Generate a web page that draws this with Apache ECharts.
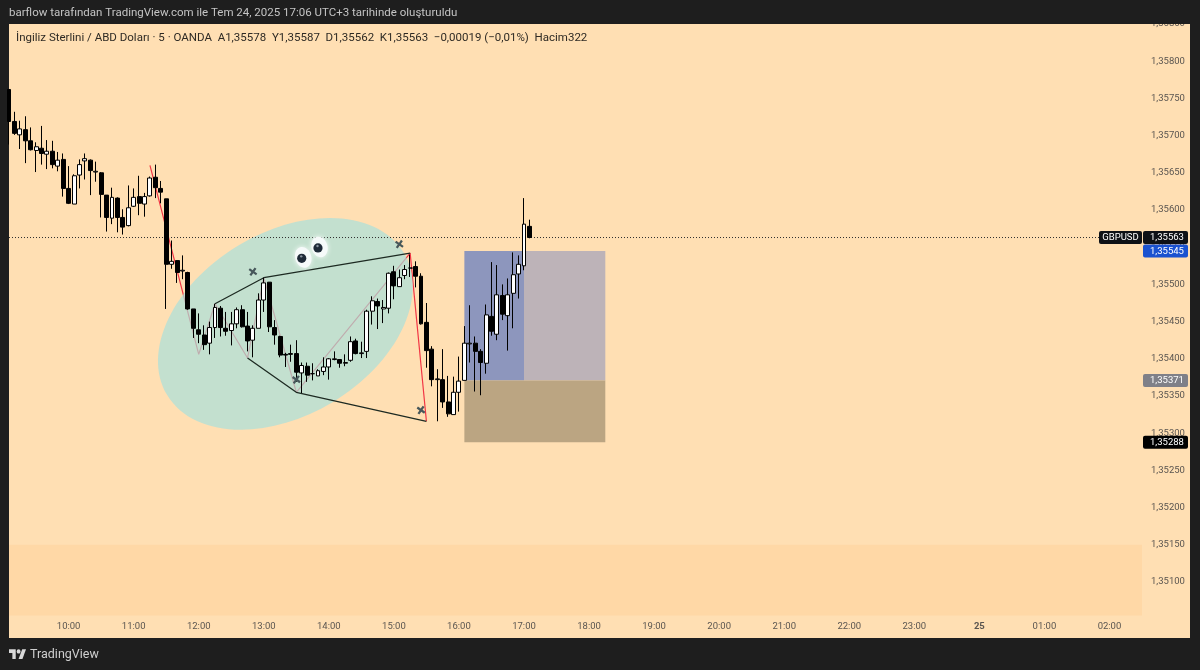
<!DOCTYPE html>
<html>
<head>
<meta charset="utf-8">
<title>GBPUSD</title>
<script src="https://cdn.jsdelivr.net/npm/echarts@6/dist/echarts.min.js"></script>
<style>
	html, body { margin: 0; padding: 0; background: #1e1e1e; }
	#chart { width: 1200px; height: 670px; }
</style>
</head>
<body>
<div id="chart"></div>
<script>
// candles (prices)
const opens = [
	1.35762, 1.35719, 1.35701, 1.35708, 1.35693, 1.35680, 1.35683, 1.35675, 1.35679, 1.35659,
	1.35668, 1.35629, 1.35608, 1.35647, 1.35666, 1.35667, 1.35651, 1.35650, 1.35620, 1.35589,
	1.35616, 1.35590, 1.35579, 1.35605, 1.35618, 1.35608, 1.35619, 1.35644, 1.35629, 1.35615,
	1.35527, 1.35532, 1.35518, 1.35516, 1.35467, 1.35439, 1.35432, 1.35421, 1.35442, 1.35468,
	1.35441, 1.35438, 1.35447, 1.35466, 1.35444, 1.35425, 1.35441, 1.35479, 1.35503, 1.35442,
	1.35430, 1.35406, 1.35407, 1.35407, 1.35381, 1.35390, 1.35380, 1.35377, 1.35383, 1.35389,
	1.35399, 1.35399, 1.35394, 1.35398, 1.35424, 1.35407, 1.35410, 1.35464, 1.35477, 1.35467,
	1.35468, 1.35517, 1.35497, 1.35512, 1.35522, 1.35524, 1.35511, 1.35449, 1.35413, 1.35372,
	1.35372, 1.35342, 1.35325, 1.35355, 1.35371, 1.35420, 1.35421, 1.35410, 1.35394, 1.35457,
	1.35433, 1.35485, 1.35458, 1.35488, 1.35514, 1.35525, 1.35578
];
const closes = [
	1.35719, 1.35703, 1.35709, 1.35693, 1.35681, 1.35685, 1.35676, 1.35679, 1.35661, 1.35667,
	1.35629, 1.35609, 1.35646, 1.35661, 1.35669, 1.35653, 1.35652, 1.35621, 1.35590, 1.35617,
	1.35590, 1.35577, 1.35603, 1.35617, 1.35609, 1.35618, 1.35643, 1.35630, 1.35624, 1.35527,
	1.35531, 1.35516, 1.35519, 1.35467, 1.35441, 1.35433, 1.35419, 1.35442, 1.35469, 1.35442,
	1.35437, 1.35447, 1.35466, 1.35443, 1.35424, 1.35441, 1.35479, 1.35502, 1.35443, 1.35432,
	1.35405, 1.35405, 1.35406, 1.35382, 1.35391, 1.35378, 1.35380, 1.35384, 1.35389, 1.35400,
	1.35400, 1.35394, 1.35395, 1.35423, 1.35407, 1.35408, 1.35464, 1.35478, 1.35471, 1.35469,
	1.35515, 1.35498, 1.35509, 1.35520, 1.35522, 1.35511, 1.35447, 1.35411, 1.35372, 1.35373,
	1.35342, 1.35326, 1.35355, 1.35370, 1.35421, 1.35421, 1.35410, 1.35395, 1.35459, 1.35437,
	1.35486, 1.35460, 1.35486, 1.35513, 1.35527, 1.35581, 1.35563
];
const lows = [
	1.35688, 1.35701, 1.35682, 1.35663, 1.35680, 1.35651, 1.35661, 1.35655, 1.35656, 1.35652,
	1.35618, 1.35608, 1.35608, 1.35629, 1.35641, 1.35620, 1.35638, 1.35590, 1.35571, 1.35581,
	1.35570, 1.35567, 1.35578, 1.35604, 1.35593, 1.35591, 1.35618, 1.35616, 1.35609, 1.35467,
	1.35521, 1.35502, 1.35507, 1.35466, 1.35428, 1.35421, 1.35412, 1.35406, 1.35428, 1.35430,
	1.35431, 1.35418, 1.35441, 1.35442, 1.35410, 1.35402, 1.35441, 1.35463, 1.35436, 1.35419,
	1.35402, 1.35389, 1.35396, 1.35369, 1.35354, 1.35369, 1.35371, 1.35377, 1.35378, 1.35372,
	1.35398, 1.35388, 1.35390, 1.35396, 1.35406, 1.35401, 1.35401, 1.35446, 1.35440, 1.35448,
	1.35461, 1.35480, 1.35497, 1.35507, 1.35510, 1.35496, 1.35446, 1.35388, 1.35363, 1.35316,
	1.35334, 1.35322, 1.35325, 1.35329, 1.35371, 1.35395, 1.35356, 1.35351, 1.35380, 1.35431,
	1.35425, 1.35452, 1.35411, 1.35441, 1.35481, 1.35519, 1.35562
];
const highs = [
	1.35762, 1.35732, 1.35720, 1.35726, 1.35711, 1.35691, 1.35713, 1.35694, 1.35693, 1.35678,
	1.35676, 1.35659, 1.35648, 1.35668, 1.35676, 1.35668, 1.35665, 1.35651, 1.35620, 1.35630,
	1.35617, 1.35601, 1.35633, 1.35629, 1.35646, 1.35623, 1.35645, 1.35661, 1.35639, 1.35615,
	1.35559, 1.35532, 1.35539, 1.35517, 1.35467, 1.35461, 1.35445, 1.35450, 1.35474, 1.35471,
	1.35463, 1.35463, 1.35469, 1.35472, 1.35463, 1.35445, 1.35488, 1.35509, 1.35503, 1.35452,
	1.35431, 1.35408, 1.35419, 1.35425, 1.35395, 1.35395, 1.35394, 1.35386, 1.35402, 1.35401,
	1.35410, 1.35399, 1.35406, 1.35430, 1.35427, 1.35423, 1.35466, 1.35484, 1.35481, 1.35479,
	1.35516, 1.35525, 1.35520, 1.35526, 1.35540, 1.35531, 1.35515, 1.35475, 1.35417, 1.35386,
	1.35413, 1.35377, 1.35376, 1.35403, 1.35444, 1.35472, 1.35430, 1.35413, 1.35473, 1.35530,
	1.35526, 1.35500, 1.35508, 1.35543, 1.35539, 1.35616, 1.35587
];

// drawings: [bar index, price]
const zigzagLine = [
	[ 26, 1.35660 ], [ 35, 1.35406 ], [ 38, 1.35474 ], [ 44, 1.35401 ],
	[ 47, 1.35509 ], [ 53, 1.35355 ], [ 74, 1.35542 ], [ 77, 1.35316 ]
];
const upperLine = [ [ 38, 1.35474 ], [ 47, 1.35509 ], [ 74, 1.35542 ] ];
const lowerLine = [ [ 44, 1.35401 ], [ 53, 1.35355 ], [ 77, 1.35316 ] ];
const crossMarks = [ [ 45, 1.35517 ], [ 53, 1.35372 ], [ 72, 1.35554 ], [ 76, 1.35331 ] ];
const ellipseCenter = [ [ 51, 1.35447 ] ];
const eyeMarks = [ [ 54, 1.35535 ], [ 57, 1.35549 ] ];
// position tool: [from bar, to bar, top price, bottom price]
const positionZones = [
	[ 84, 95, 1.35545, 1.35371 ],
	[ 95, 110, 1.35545, 1.35371 ],
	[ 84, 110, 1.35371, 1.35288 ]
];
const zoneColors = [ '#8d96bd', '#bdb3b8', '#bba582' ];

const lastPrice = 1.35563;
const lastPriceLine = [ [ 0, lastPrice ], [ 209, lastPrice ] ];
const priceTags = [ 1.35563, 1.35545, 1.35371, 1.35288 ];
const priceTagColors = [ '#0e1116', '#1a52d0', '#7f8088', '#000000' ];
const bandTop = 1.3515;
const bandBottom = 1.35055;

const headerText = 'barflow tarafından TradingView.com ile Tem 24, 2025 17:06 UTC+3 tarihinde oluşturuldu';
const legendText = 'İngiliz Sterlini / ABD Doları · 5 · OANDA  A1,35578  Y1,35587  D1,35562  K1,35563  −0,00019 (−0,01%)  Hacim322';

const BAR_COUNT = 210;
const FONT = 'Roboto, sans-serif';
const PAGE_BG = '#1e1e1e';
const CHART_BG = '#ffdfb3';

// 5 minute bars, the first one is 09:05
const categories = [];
for ( let i = 0; i < BAR_COUNT; i++ ) {
	const minutes = ( 9 * 60 + 5 + i * 5 ) % 1440;
	const hour = String( Math.floor( minutes / 60 ) ).padStart( 2, '0' );
	const minute = String( minutes % 60 ).padStart( 2, '0' );
	categories.push( hour + ':' + minute );
}

const candles = opens.map( ( open, i ) => [ open, closes[ i ], lows[ i ], highs[ i ] ] );

const formatPrice = ( value ) => value.toFixed( 5 ).replace( '.', ',' );

const renderEllipse = ( params, api ) => {
	const center = api.coord( [ api.value( 0 ), api.value( 1 ) ] );
	return {
		type: 'ellipse',
		x: center[ 0 ],
		y: center[ 1 ],
		rotation: 31 * Math.PI / 180,
		shape: { cx: 0, cy: 0, rx: 138, ry: 91.5 },
		style: { fill: 'rgba(169,224,219,0.7)' }
	};
};

const renderZone = ( params, api ) => {
	const topLeft = api.coord( [ api.value( 0 ), api.value( 2 ) ] );
	const bottomRight = api.coord( [ api.value( 1 ), api.value( 3 ) ] );
	return {
		type: 'rect',
		shape: {
			x: topLeft[ 0 ],
			y: topLeft[ 1 ],
			width: bottomRight[ 0 ] - topLeft[ 0 ],
			height: bottomRight[ 1 ] - topLeft[ 1 ]
		},
		style: { fill: zoneColors[ params.dataIndex ] }
	};
};

const renderEye = ( params, api ) => {
	const center = api.coord( [ api.value( 0 ), api.value( 1 ) ] );
	return {
		type: 'group',
		x: center[ 0 ],
		y: center[ 1 ],
		children: [
			{
				type: 'ellipse',
				rotation: 0.3,
				x: 1.5,
				y: -1,
				shape: { cx: 0, cy: 0, rx: 8, ry: 10.5 },
				style: { fill: '#f6fafa', shadowBlur: 5, shadowColor: 'rgba(255,255,255,0.9)' }
			},
			{
				type: 'circle',
				shape: { cx: 0, cy: 0, r: 4.6 },
				style: { fill: '#1f2a38' }
			},
			{
				type: 'circle',
				shape: { cx: -0.5, cy: -2, r: 1.2 },
				style: { fill: '#8a94a0' }
			}
		]
	};
};

const renderPriceTag = ( params, api ) => {
	const y = api.coord( [ 0, api.value( 0 ) ] )[ 1 ];
	const rect = params.coordSys;
	const left = rect.x + rect.width + 1;
	return {
		type: 'group',
		children: [
			{
				type: 'rect',
				shape: { x: left, y: y - 6.5, width: 45, height: 13, r: 2 },
				style: { fill: priceTagColors[ params.dataIndex ] }
			},
			{
				type: 'text',
				style: {
					x: left + 7,
					y: y + 0.5,
					text: formatPrice( api.value( 0 ) ),
					fill: '#ffffff',
					font: '9.5px ' + FONT,
					textAlign: 'left',
					textVerticalAlign: 'middle'
				}
			}
		]
	};
};

const renderSymbolTag = ( params, api ) => {
	const y = api.coord( [ 0, api.value( 0 ) ] )[ 1 ];
	const rect = params.coordSys;
	const right = rect.x + rect.width;
	return {
		type: 'group',
		children: [
			{
				type: 'rect',
				shape: { x: right - 43, y: y - 6.5, width: 43, height: 13, r: 2 },
				style: { fill: '#0e1116' }
			},
			{
				type: 'text',
				style: {
					x: right - 21.5,
					y: y + 0.5,
					text: 'GBPUSD',
					fill: '#ffffff',
					font: '9.5px ' + FONT,
					textAlign: 'center',
					textVerticalAlign: 'middle'
				}
			}
		]
	};
};

const chart = echarts.init( document.getElementById( 'chart' ), null, { renderer: 'canvas' } );

chart.setOption( {
	animation: false,
	backgroundColor: PAGE_BG,
	textStyle: { fontFamily: FONT },
	title: [
		{
			text: legendText,
			left: 11,
			top: 27,
			textStyle: { color: '#2e2a24', fontSize: 11.5, fontWeight: 'normal', fontFamily: FONT }
		},
		{
			text: 'TradingView',
			left: 25,
			top: 643,
			textStyle: { color: '#cfcfcf', fontSize: 12.5, fontWeight: 'normal', fontFamily: FONT }
		}
	],
	grid: { left: 9, top: 24, width: 1133, height: 595.2, containLabel: false },
	xAxis: {
		type: 'category',
		data: categories,
		boundaryGap: false,
		axisLine: { show: false },
		axisTick: { show: false },
		splitLine: { show: false },
		axisLabel: {
			margin: 2,
			color: '#5a5550',
			fontSize: 9.5,
			interval: ( index, value ) => value.endsWith( ':00' ),
			formatter: ( value ) => value === '00:00' ? '{bold|25}' : value,
			rich: { bold: { fontWeight: 'bold', color: '#5a5550', fontSize: 9.5 } }
		}
	},
	yAxis: {
		type: 'value',
		position: 'right',
		min: 1.3505,
		max: 1.3585,
		interval: 0.0005,
		axisLine: { show: false },
		axisTick: { show: false },
		splitLine: { show: false },
		axisLabel: {
			margin: 9,
			color: '#5a5550',
			fontSize: 9.5,
			padding: [ 1, 0, 0, 0 ],
			formatter: ( value ) => value < 1.3507 ? '' : formatPrice( value )
		}
	},
	graphic: [
		{
			type: 'rect',
			z: -10,
			silent: true,
			shape: { x: 9, y: 24, width: 1181, height: 614 },
			style: { fill: CHART_BG }
		},
		{
			type: 'rect',
			z: 10,
			zlevel: 1,
			silent: true,
			shape: { x: 0, y: 0, width: 1200, height: 24 },
			style: { fill: PAGE_BG }
		},
		{
			type: 'text',
			z: 11,
			zlevel: 1,
			silent: true,
			style: {
				x: 9,
				y: 13,
				text: headerText,
				fill: '#c4c4c4',
				font: '11.5px ' + FONT,
				textVerticalAlign: 'middle'
			}
		},
		{
			// TradingView logo
			type: 'group',
			silent: true,
			x: 9,
			y: 647,
			scaleX: 0.48,
			scaleY: 0.55,
			children: [
				{
					type: 'polygon',
					shape: { points: [ [ 0, 4 ], [ 14, 4 ], [ 14, 22 ], [ 7, 22 ], [ 7, 11 ], [ 0, 11 ] ] },
					style: { fill: '#d8d8d8' }
				},
				{
					type: 'polygon',
					shape: { points: [ [ 27.5, 4 ], [ 35.5, 4 ], [ 28, 22 ], [ 20, 22 ] ] },
					style: { fill: '#d8d8d8' }
				},
				{
					type: 'circle',
					shape: { cx: 20, cy: 8, r: 4 },
					style: { fill: '#d8d8d8' }
				}
			]
		}
	],
	series: [
		{
			name: 'band',
			type: 'line',
			data: [],
			silent: true,
			z: 1,
			markArea: {
				silent: true,
				itemStyle: { color: '#ffd8a6' },
				data: [ [ { yAxis: bandTop }, { yAxis: bandBottom } ] ]
			}
		},
		{
			name: 'position',
			type: 'custom',
			data: positionZones,
			renderItem: renderZone,
			silent: true,
			z: 2
		},
		{
			name: 'zigzag',
			type: 'line',
			data: zigzagLine,
			symbol: 'none',
			silent: true,
			z: 3,
			lineStyle: { color: '#f23645', width: 1.2 }
		},
		{
			name: 'ellipse',
			type: 'custom',
			data: ellipseCenter,
			renderItem: renderEllipse,
			silent: true,
			z: 4
		},
		{
			name: 'upper',
			type: 'line',
			data: upperLine,
			symbol: 'none',
			silent: true,
			z: 5,
			lineStyle: { color: '#1d2a22', width: 1.3 }
		},
		{
			name: 'lower',
			type: 'line',
			data: lowerLine,
			symbol: 'none',
			silent: true,
			z: 5,
			lineStyle: { color: '#1d2a22', width: 1.3 }
		},
		{
			name: 'lastPrice',
			type: 'line',
			data: lastPriceLine,
			symbol: 'none',
			silent: true,
			z: 5,
			lineStyle: { color: '#2e2e2e', type: [ 1, 2 ], width: 1 }
		},
		{
			name: 'GBPUSD',
			type: 'candlestick',
			data: candles,
			barWidth: 4.4,
			z: 6,
			itemStyle: {
				color: '#ffffff',
				color0: '#000000',
				borderColor: '#000000',
				borderColor0: '#000000',
				borderWidth: 1
			}
		},
		{
			name: 'crosses',
			type: 'scatter',
			data: crossMarks,
			symbol: 'path://M2 0L5 3L8 0L10 2L7 5L10 8L8 10L5 7L2 10L0 8L3 5L0 2Z',
			symbolSize: 8,
			symbolRotate: 10,
			silent: true,
			z: 7,
			itemStyle: { color: '#47575a', opacity: 1 }
		},
		{
			name: 'eyes',
			type: 'custom',
			data: eyeMarks,
			renderItem: renderEye,
			silent: true,
			z: 8
		},
		{
			name: 'symbolTag',
			type: 'custom',
			data: [ [ lastPrice ] ],
			encode: { y: 0 },
			renderItem: renderSymbolTag,
			clip: false,
			silent: true,
			z: 9
		},
		{
			name: 'priceTags',
			type: 'custom',
			data: priceTags.map( ( price ) => [ price ] ),
			encode: { y: 0 },
			renderItem: renderPriceTag,
			clip: false,
			silent: true,
			z: 9
		}
	]
} );
</script>
</body>
</html>
